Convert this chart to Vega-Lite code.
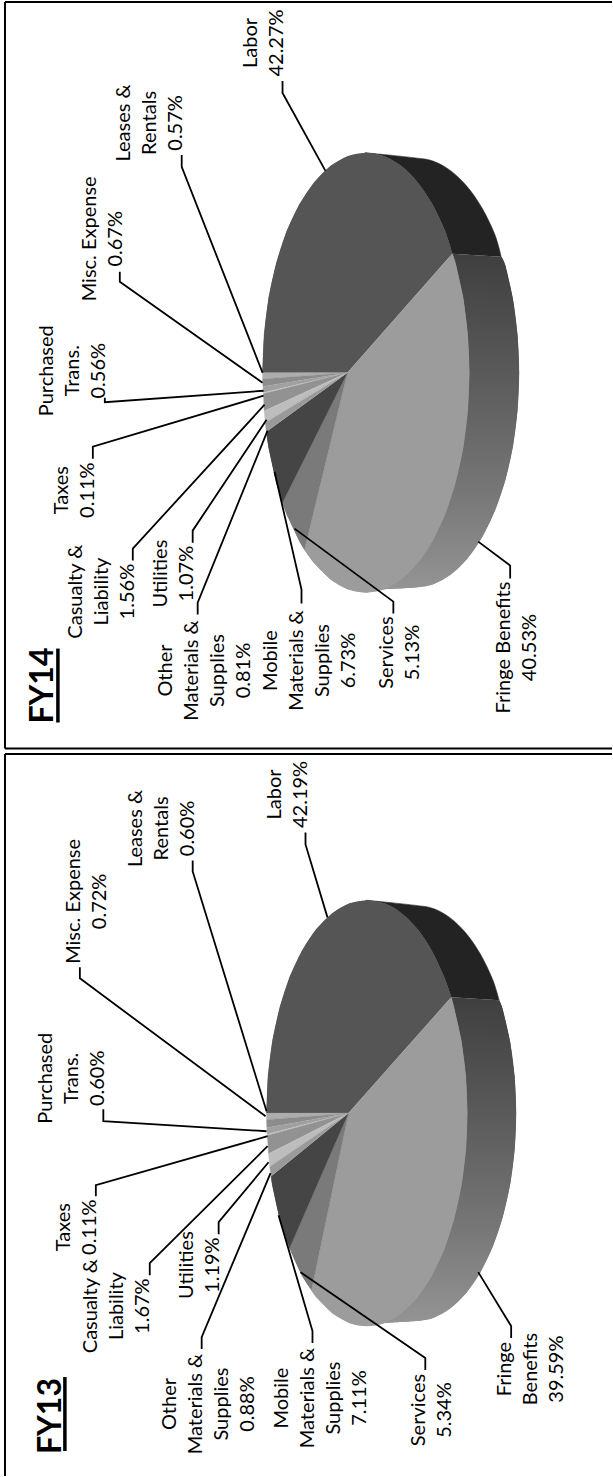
{
  "$schema": "https://vega.github.io/schema/vega-lite/v6.json",
  "width": 613,
  "height": 1477,
  "autosize": {"type": "fit", "contains": "padding"},
  "padding": 0,
  "background": "white",
  "config": {"view": {"stroke": null}},
  "datasets": {
    "frames": [
      {"x": 5, "y": 2, "x2": 613, "y2": 2},
      {"x": 5, "y": 2, "x2": 5, "y2": 749},
      {"x": 5, "y": 749, "x2": 613, "y2": 749},
      {"x": 5, "y": 754.5, "x2": 613, "y2": 754.5},
      {"x": 5, "y": 754.5, "x2": 5, "y2": 1477}
    ],
    "underlines": [
      {"x": 58, "y": 649, "x2": 58, "y2": 723},
      {"x": 65, "y": 1378, "x2": 65, "y2": 1452}
    ],
    "walls": [
      {"fy": "FY14", "part": "Fringe Benefits", "step": 1, "x": 453, "y": 254},
      {"fy": "FY14", "part": "Fringe Benefits", "step": 2, "x": 502, "y": 257},
      {"fy": "FY14", "part": "Fringe Benefits", "step": 3, "x": 506.1, "y": 265.5},
      {"fy": "FY14", "part": "Fringe Benefits", "step": 4, "x": 513.8, "y": 299.5},
      {"fy": "FY14", "part": "Fringe Benefits", "step": 5, "x": 518.4, "y": 335.7},
      {"fy": "FY14", "part": "Fringe Benefits", "step": 6, "x": 520, "y": 373},
      {"fy": "FY14", "part": "Fringe Benefits", "step": 7, "x": 518.4, "y": 410.3},
      {"fy": "FY14", "part": "Fringe Benefits", "step": 8, "x": 513.8, "y": 446.5},
      {"fy": "FY14", "part": "Fringe Benefits", "step": 9, "x": 506.1, "y": 480.5},
      {"fy": "FY14", "part": "Fringe Benefits", "step": 10, "x": 495.7, "y": 511.2},
      {"fy": "FY14", "part": "Fringe Benefits", "step": 11, "x": 482.9, "y": 537.7},
      {"fy": "FY14", "part": "Fringe Benefits", "step": 12, "x": 468, "y": 559.2},
      {"fy": "FY14", "part": "Fringe Benefits", "step": 13, "x": 451.6, "y": 575},
      {"fy": "FY14", "part": "Fringe Benefits", "step": 14, "x": 434.1, "y": 584.7},
      {"fy": "FY14", "part": "Fringe Benefits", "step": 15, "x": 416, "y": 588},
      {"fy": "FY14", "part": "Fringe Benefits", "step": 16, "x": 384.5, "y": 589.7},
      {"fy": "FY14", "part": "Fringe Benefits", "step": 17, "x": 366.5, "y": 593},
      {"fy": "FY14", "part": "Fringe Benefits", "step": 18, "x": 366.5, "y": 373},
      {"fy": "FY13", "part": "Fringe Benefits", "step": 1, "x": 452, "y": 998},
      {"fy": "FY13", "part": "Fringe Benefits", "step": 2, "x": 500, "y": 1001},
      {"fy": "FY13", "part": "Fringe Benefits", "step": 3, "x": 503.5, "y": 1010},
      {"fy": "FY13", "part": "Fringe Benefits", "step": 4, "x": 511, "y": 1042.9},
      {"fy": "FY13", "part": "Fringe Benefits", "step": 5, "x": 515.5, "y": 1077.9},
      {"fy": "FY13", "part": "Fringe Benefits", "step": 6, "x": 517, "y": 1114},
      {"fy": "FY13", "part": "Fringe Benefits", "step": 7, "x": 515.5, "y": 1150.1},
      {"fy": "FY13", "part": "Fringe Benefits", "step": 8, "x": 511, "y": 1185.1},
      {"fy": "FY13", "part": "Fringe Benefits", "step": 9, "x": 503.5, "y": 1218},
      {"fy": "FY13", "part": "Fringe Benefits", "step": 10, "x": 493.5, "y": 1247.7},
      {"fy": "FY13", "part": "Fringe Benefits", "step": 11, "x": 481.1, "y": 1273.3},
      {"fy": "FY13", "part": "Fringe Benefits", "step": 12, "x": 466.8, "y": 1294.1},
      {"fy": "FY13", "part": "Fringe Benefits", "step": 13, "x": 450.9, "y": 1309.5},
      {"fy": "FY13", "part": "Fringe Benefits", "step": 14, "x": 434, "y": 1318.8},
      {"fy": "FY13", "part": "Fringe Benefits", "step": 15, "x": 416.5, "y": 1322},
      {"fy": "FY13", "part": "Fringe Benefits", "step": 16, "x": 385, "y": 1323.8},
      {"fy": "FY13", "part": "Fringe Benefits", "step": 17, "x": 367.5, "y": 1327},
      {"fy": "FY13", "part": "Fringe Benefits", "step": 18, "x": 367.5, "y": 1114}
    ],
    "faces": [
      {"fy": "FY14", "part": "Labor side", "step": 1, "x": 453, "y": 254},
      {"fy": "FY14", "part": "Labor side", "step": 2, "x": 445.8, "y": 231.5},
      {"fy": "FY14", "part": "Labor side", "step": 3, "x": 433, "y": 204.5},
      {"fy": "FY14", "part": "Labor side", "step": 4, "x": 418.3, "y": 182.5},
      {"fy": "FY14", "part": "Labor side", "step": 5, "x": 401.9, "y": 166.2},
      {"fy": "FY14", "part": "Labor side", "step": 6, "x": 384.5, "y": 156.3},
      {"fy": "FY14", "part": "Labor side", "step": 7, "x": 366.5, "y": 153},
      {"fy": "FY14", "part": "Labor side", "step": 8, "x": 416, "y": 158},
      {"fy": "FY14", "part": "Labor side", "step": 9, "x": 434.1, "y": 161.3},
      {"fy": "FY14", "part": "Labor side", "step": 10, "x": 451.6, "y": 171},
      {"fy": "FY14", "part": "Labor side", "step": 11, "x": 468, "y": 186.8},
      {"fy": "FY14", "part": "Labor side", "step": 12, "x": 482.9, "y": 208.3},
      {"fy": "FY14", "part": "Labor side", "step": 13, "x": 495.7, "y": 234.8},
      {"fy": "FY14", "part": "Labor side", "step": 14, "x": 502, "y": 257},

      {"fy": "FY14", "part": "Labor", "step": 1, "x": 348, "y": 373},
      {"fy": "FY14", "part": "Labor", "step": 2, "x": 263, "y": 373},
      {"fy": "FY14", "part": "Labor", "step": 3, "x": 264.6, "y": 334.8},
      {"fy": "FY14", "part": "Labor", "step": 4, "x": 269.2, "y": 297.8},
      {"fy": "FY14", "part": "Labor", "step": 5, "x": 276.9, "y": 263},
      {"fy": "FY14", "part": "Labor", "step": 6, "x": 287.2, "y": 231.5},
      {"fy": "FY14", "part": "Labor", "step": 7, "x": 300, "y": 204.5},
      {"fy": "FY14", "part": "Labor", "step": 8, "x": 314.7, "y": 182.5},
      {"fy": "FY14", "part": "Labor", "step": 9, "x": 331.1, "y": 166.2},
      {"fy": "FY14", "part": "Labor", "step": 10, "x": 348.5, "y": 156.3},
      {"fy": "FY14", "part": "Labor", "step": 11, "x": 366.5, "y": 153},
      {"fy": "FY14", "part": "Labor", "step": 12, "x": 384.5, "y": 156.3},
      {"fy": "FY14", "part": "Labor", "step": 13, "x": 401.9, "y": 166.2},
      {"fy": "FY14", "part": "Labor", "step": 14, "x": 418.3, "y": 182.5},
      {"fy": "FY14", "part": "Labor", "step": 15, "x": 433, "y": 204.5},
      {"fy": "FY14", "part": "Labor", "step": 16, "x": 445.8, "y": 231.5},
      {"fy": "FY14", "part": "Labor", "step": 17, "x": 453, "y": 254},

      {"fy": "FY14", "part": "Fringe Benefits", "step": 1, "x": 348, "y": 373},
      {"fy": "FY14", "part": "Fringe Benefits", "step": 2, "x": 453, "y": 254},
      {"fy": "FY14", "part": "Fringe Benefits", "step": 3, "x": 456.1, "y": 263},
      {"fy": "FY14", "part": "Fringe Benefits", "step": 4, "x": 463.8, "y": 297.8},
      {"fy": "FY14", "part": "Fringe Benefits", "step": 5, "x": 468.4, "y": 334.8},
      {"fy": "FY14", "part": "Fringe Benefits", "step": 6, "x": 470, "y": 373},
      {"fy": "FY14", "part": "Fringe Benefits", "step": 7, "x": 468.4, "y": 411.2},
      {"fy": "FY14", "part": "Fringe Benefits", "step": 8, "x": 463.8, "y": 448.2},
      {"fy": "FY14", "part": "Fringe Benefits", "step": 9, "x": 456.1, "y": 483},
      {"fy": "FY14", "part": "Fringe Benefits", "step": 10, "x": 445.8, "y": 514.5},
      {"fy": "FY14", "part": "Fringe Benefits", "step": 11, "x": 433, "y": 541.5},
      {"fy": "FY14", "part": "Fringe Benefits", "step": 12, "x": 418.3, "y": 563.5},
      {"fy": "FY14", "part": "Fringe Benefits", "step": 13, "x": 401.9, "y": 579.8},
      {"fy": "FY14", "part": "Fringe Benefits", "step": 14, "x": 384.5, "y": 589.7},
      {"fy": "FY14", "part": "Fringe Benefits", "step": 15, "x": 366.5, "y": 593},
      {"fy": "FY14", "part": "Fringe Benefits", "step": 16, "x": 348.5, "y": 589.7},
      {"fy": "FY14", "part": "Fringe Benefits", "step": 17, "x": 331.1, "y": 579.8},
      {"fy": "FY14", "part": "Fringe Benefits", "step": 18, "x": 314.7, "y": 563.5},
      {"fy": "FY14", "part": "Fringe Benefits", "step": 19, "x": 305, "y": 550},

      {"fy": "FY14", "part": "Services", "step": 1, "x": 348, "y": 373},
      {"fy": "FY14", "part": "Services", "step": 2, "x": 305, "y": 550},
      {"fy": "FY14", "part": "Services", "step": 3, "x": 300, "y": 541.5},
      {"fy": "FY14", "part": "Services", "step": 4, "x": 287.2, "y": 514.5},
      {"fy": "FY14", "part": "Services", "step": 5, "x": 283, "y": 503},

      {"fy": "FY14", "part": "Mobile Materials", "step": 1, "x": 348, "y": 373},
      {"fy": "FY14", "part": "Mobile Materials", "step": 2, "x": 283, "y": 503},
      {"fy": "FY14", "part": "Mobile Materials", "step": 3, "x": 276.9, "y": 483},
      {"fy": "FY14", "part": "Mobile Materials", "step": 4, "x": 269.2, "y": 448.2},
      {"fy": "FY14", "part": "Mobile Materials", "step": 5, "x": 266.8, "y": 432},

      {"fy": "FY14", "part": "Leases", "step": 1, "x": 348, "y": 373},
      {"fy": "FY14", "part": "Leases", "step": 2, "x": 263, "y": 373},
      {"fy": "FY14", "part": "Leases", "step": 3, "x": 263.1, "y": 379.3},
      {"fy": "FY14", "part": "Misc", "step": 1, "x": 348, "y": 373},
      {"fy": "FY14", "part": "Misc", "step": 2, "x": 263.1, "y": 379.3},
      {"fy": "FY14", "part": "Misc", "step": 3, "x": 263.4, "y": 386.7},
      {"fy": "FY14", "part": "Purchased", "step": 1, "x": 348, "y": 373},
      {"fy": "FY14", "part": "Purchased", "step": 2, "x": 263.4, "y": 386.7},
      {"fy": "FY14", "part": "Purchased", "step": 3, "x": 263.8, "y": 392.9},
      {"fy": "FY14", "part": "Taxes", "step": 1, "x": 348, "y": 373},
      {"fy": "FY14", "part": "Taxes", "step": 2, "x": 263.8, "y": 392.9},
      {"fy": "FY14", "part": "Taxes", "step": 3, "x": 263.9, "y": 394.1},
      {"fy": "FY14", "part": "Casualty", "step": 1, "x": 348, "y": 373},
      {"fy": "FY14", "part": "Casualty", "step": 2, "x": 263.9, "y": 394.1},
      {"fy": "FY14", "part": "Casualty", "step": 3, "x": 264.6, "y": 411.3},
      {"fy": "FY14", "part": "Utilities", "step": 1, "x": 348, "y": 373},
      {"fy": "FY14", "part": "Utilities", "step": 2, "x": 264.6, "y": 411.3},
      {"fy": "FY14", "part": "Utilities", "step": 3, "x": 265.7, "y": 423.1},
      {"fy": "FY14", "part": "Other Materials", "step": 1, "x": 348, "y": 373},
      {"fy": "FY14", "part": "Other Materials", "step": 2, "x": 265.7, "y": 423.1},
      {"fy": "FY14", "part": "Other Materials", "step": 3, "x": 266.8, "y": 432},

      {"fy": "FY13", "part": "Labor side", "step": 1, "x": 452, "y": 998},
      {"fy": "FY13", "part": "Labor side", "step": 2, "x": 444.5, "y": 977},
      {"fy": "FY13", "part": "Labor side", "step": 3, "x": 432.1, "y": 950.8},
      {"fy": "FY13", "part": "Labor side", "step": 4, "x": 417.8, "y": 929.5},
      {"fy": "FY13", "part": "Labor side", "step": 5, "x": 401.9, "y": 913.8},
      {"fy": "FY13", "part": "Labor side", "step": 6, "x": 385, "y": 904.2},
      {"fy": "FY13", "part": "Labor side", "step": 7, "x": 367.5, "y": 901},
      {"fy": "FY13", "part": "Labor side", "step": 8, "x": 416.5, "y": 906},
      {"fy": "FY13", "part": "Labor side", "step": 9, "x": 434, "y": 909.2},
      {"fy": "FY13", "part": "Labor side", "step": 10, "x": 450.9, "y": 918.5},
      {"fy": "FY13", "part": "Labor side", "step": 11, "x": 466.8, "y": 933.9},
      {"fy": "FY13", "part": "Labor side", "step": 12, "x": 481.1, "y": 954.7},
      {"fy": "FY13", "part": "Labor side", "step": 13, "x": 493.5, "y": 980.3},
      {"fy": "FY13", "part": "Labor side", "step": 14, "x": 500, "y": 1001},

      {"fy": "FY13", "part": "Labor", "step": 1, "x": 349, "y": 1114},
      {"fy": "FY13", "part": "Labor", "step": 2, "x": 267, "y": 1114},
      {"fy": "FY13", "part": "Labor", "step": 3, "x": 268.5, "y": 1076.9},
      {"fy": "FY13", "part": "Labor", "step": 4, "x": 273, "y": 1041.2},
      {"fy": "FY13", "part": "Labor", "step": 5, "x": 280.5, "y": 1007.5},
      {"fy": "FY13", "part": "Labor", "step": 6, "x": 290.5, "y": 977},
      {"fy": "FY13", "part": "Labor", "step": 7, "x": 302.9, "y": 950.8},
      {"fy": "FY13", "part": "Labor", "step": 8, "x": 317.2, "y": 929.5},
      {"fy": "FY13", "part": "Labor", "step": 9, "x": 333.1, "y": 913.8},
      {"fy": "FY13", "part": "Labor", "step": 10, "x": 350, "y": 904.2},
      {"fy": "FY13", "part": "Labor", "step": 11, "x": 367.5, "y": 901},
      {"fy": "FY13", "part": "Labor", "step": 12, "x": 385, "y": 904.2},
      {"fy": "FY13", "part": "Labor", "step": 13, "x": 401.9, "y": 913.8},
      {"fy": "FY13", "part": "Labor", "step": 14, "x": 417.8, "y": 929.5},
      {"fy": "FY13", "part": "Labor", "step": 15, "x": 432.1, "y": 950.8},
      {"fy": "FY13", "part": "Labor", "step": 16, "x": 444.5, "y": 977},
      {"fy": "FY13", "part": "Labor", "step": 17, "x": 452, "y": 998},

      {"fy": "FY13", "part": "Fringe Benefits", "step": 1, "x": 349, "y": 1114},
      {"fy": "FY13", "part": "Fringe Benefits", "step": 2, "x": 452, "y": 998},
      {"fy": "FY13", "part": "Fringe Benefits", "step": 3, "x": 454.5, "y": 1007.5},
      {"fy": "FY13", "part": "Fringe Benefits", "step": 4, "x": 462, "y": 1041.2},
      {"fy": "FY13", "part": "Fringe Benefits", "step": 5, "x": 466.5, "y": 1076.9},
      {"fy": "FY13", "part": "Fringe Benefits", "step": 6, "x": 468, "y": 1114},
      {"fy": "FY13", "part": "Fringe Benefits", "step": 7, "x": 466.5, "y": 1151.1},
      {"fy": "FY13", "part": "Fringe Benefits", "step": 8, "x": 462, "y": 1186.8},
      {"fy": "FY13", "part": "Fringe Benefits", "step": 9, "x": 454.5, "y": 1220.5},
      {"fy": "FY13", "part": "Fringe Benefits", "step": 10, "x": 444.5, "y": 1251},
      {"fy": "FY13", "part": "Fringe Benefits", "step": 11, "x": 432.1, "y": 1277.2},
      {"fy": "FY13", "part": "Fringe Benefits", "step": 12, "x": 417.8, "y": 1298.5},
      {"fy": "FY13", "part": "Fringe Benefits", "step": 13, "x": 401.9, "y": 1314.2},
      {"fy": "FY13", "part": "Fringe Benefits", "step": 14, "x": 385, "y": 1323.8},
      {"fy": "FY13", "part": "Fringe Benefits", "step": 15, "x": 367.5, "y": 1327},
      {"fy": "FY13", "part": "Fringe Benefits", "step": 16, "x": 350, "y": 1323.8},
      {"fy": "FY13", "part": "Fringe Benefits", "step": 17, "x": 333.1, "y": 1314.2},
      {"fy": "FY13", "part": "Fringe Benefits", "step": 18, "x": 317.2, "y": 1298.5},
      {"fy": "FY13", "part": "Fringe Benefits", "step": 19, "x": 312, "y": 1291},

      {"fy": "FY13", "part": "Services", "step": 1, "x": 349, "y": 1114},
      {"fy": "FY13", "part": "Services", "step": 2, "x": 312, "y": 1291},
      {"fy": "FY13", "part": "Services", "step": 3, "x": 302.9, "y": 1277.2},
      {"fy": "FY13", "part": "Services", "step": 4, "x": 290, "y": 1249},

      {"fy": "FY13", "part": "Mobile Materials", "step": 1, "x": 349, "y": 1114},
      {"fy": "FY13", "part": "Mobile Materials", "step": 2, "x": 290, "y": 1249},
      {"fy": "FY13", "part": "Mobile Materials", "step": 3, "x": 280.5, "y": 1220.5},
      {"fy": "FY13", "part": "Mobile Materials", "step": 4, "x": 273, "y": 1186.8},
      {"fy": "FY13", "part": "Mobile Materials", "step": 5, "x": 271.5, "y": 1177},

      {"fy": "FY13", "part": "Leases", "step": 1, "x": 349, "y": 1114},
      {"fy": "FY13", "part": "Leases", "step": 2, "x": 267, "y": 1114},
      {"fy": "FY13", "part": "Leases", "step": 3, "x": 267, "y": 1120.5},
      {"fy": "FY13", "part": "Misc", "step": 1, "x": 349, "y": 1114},
      {"fy": "FY13", "part": "Misc", "step": 2, "x": 267, "y": 1120.5},
      {"fy": "FY13", "part": "Misc", "step": 3, "x": 267.3, "y": 1128.5},
      {"fy": "FY13", "part": "Purchased", "step": 1, "x": 349, "y": 1114},
      {"fy": "FY13", "part": "Purchased", "step": 2, "x": 267.3, "y": 1128.5},
      {"fy": "FY13", "part": "Purchased", "step": 3, "x": 267.7, "y": 1135},
      {"fy": "FY13", "part": "Taxes", "step": 1, "x": 349, "y": 1114},
      {"fy": "FY13", "part": "Taxes", "step": 2, "x": 267.7, "y": 1135},
      {"fy": "FY13", "part": "Taxes", "step": 3, "x": 267.8, "y": 1136.2},
      {"fy": "FY13", "part": "Casualty", "step": 1, "x": 349, "y": 1114},
      {"fy": "FY13", "part": "Casualty", "step": 2, "x": 267.8, "y": 1136.2},
      {"fy": "FY13", "part": "Casualty", "step": 3, "x": 269, "y": 1154.5},
      {"fy": "FY13", "part": "Utilities", "step": 1, "x": 349, "y": 1114},
      {"fy": "FY13", "part": "Utilities", "step": 2, "x": 269, "y": 1154.5},
      {"fy": "FY13", "part": "Utilities", "step": 3, "x": 270.2, "y": 1167.5},
      {"fy": "FY13", "part": "Other Materials", "step": 1, "x": 349, "y": 1114},
      {"fy": "FY13", "part": "Other Materials", "step": 2, "x": 270.2, "y": 1167.5},
      {"fy": "FY13", "part": "Other Materials", "step": 3, "x": 271.5, "y": 1177}
    ],
    "leaders": [
      {"fy": "FY14", "name": "Labor", "step": 1, "x": 283, "y": 81},
      {"fy": "FY14", "name": "Labor", "step": 2, "x": 283, "y": 93},
      {"fy": "FY14", "name": "Labor", "step": 3, "x": 326, "y": 171},
      {"fy": "FY14", "name": "Leases", "step": 1, "x": 182, "y": 155},
      {"fy": "FY14", "name": "Leases", "step": 2, "x": 182, "y": 167},
      {"fy": "FY14", "name": "Leases", "step": 3, "x": 263, "y": 373},
      {"fy": "FY14", "name": "Misc", "step": 1, "x": 120, "y": 272},
      {"fy": "FY14", "name": "Misc", "step": 2, "x": 120, "y": 282},
      {"fy": "FY14", "name": "Misc", "step": 3, "x": 263, "y": 383},
      {"fy": "FY14", "name": "Purchased", "step": 1, "x": 105, "y": 398},
      {"fy": "FY14", "name": "Purchased", "step": 2, "x": 105, "y": 402.5},
      {"fy": "FY14", "name": "Purchased", "step": 3, "x": 264, "y": 391},
      {"fy": "FY14", "name": "Taxes", "step": 1, "x": 93, "y": 459},
      {"fy": "FY14", "name": "Taxes", "step": 2, "x": 93, "y": 447},
      {"fy": "FY14", "name": "Taxes", "step": 3, "x": 264, "y": 396},
      {"fy": "FY14", "name": "Casualty", "step": 1, "x": 133, "y": 561},
      {"fy": "FY14", "name": "Casualty", "step": 2, "x": 133, "y": 549},
      {"fy": "FY14", "name": "Casualty", "step": 3, "x": 265, "y": 405},
      {"fy": "FY14", "name": "Utilities", "step": 1, "x": 193, "y": 543},
      {"fy": "FY14", "name": "Utilities", "step": 2, "x": 193, "y": 531},
      {"fy": "FY14", "name": "Utilities", "step": 3, "x": 267, "y": 420},
      {"fy": "FY14", "name": "Other", "step": 1, "x": 198, "y": 615},
      {"fy": "FY14", "name": "Other", "step": 2, "x": 198, "y": 603},
      {"fy": "FY14", "name": "Other", "step": 3, "x": 268, "y": 431},
      {"fy": "FY14", "name": "Mobile", "step": 1, "x": 275, "y": 472},
      {"fy": "FY14", "name": "Mobile", "step": 2, "x": 302, "y": 590},
      {"fy": "FY14", "name": "Mobile", "step": 3, "x": 302, "y": 604},
      {"fy": "FY14", "name": "Services", "step": 1, "x": 295, "y": 529},
      {"fy": "FY14", "name": "Services", "step": 2, "x": 394, "y": 602},
      {"fy": "FY14", "name": "Services", "step": 3, "x": 394, "y": 614},
      {"fy": "FY14", "name": "Fringe", "step": 1, "x": 479, "y": 542},
      {"fy": "FY14", "name": "Fringe", "step": 2, "x": 511, "y": 566},
      {"fy": "FY14", "name": "Fringe", "step": 3, "x": 511, "y": 579},
      {"fy": "FY13", "name": "Labor", "step": 1, "x": 306, "y": 833},
      {"fy": "FY13", "name": "Labor", "step": 2, "x": 306, "y": 845},
      {"fy": "FY13", "name": "Labor", "step": 3, "x": 328, "y": 918},
      {"fy": "FY13", "name": "Leases", "step": 1, "x": 193, "y": 861},
      {"fy": "FY13", "name": "Leases", "step": 2, "x": 193, "y": 872},
      {"fy": "FY13", "name": "Leases", "step": 3, "x": 267, "y": 1112},
      {"fy": "FY13", "name": "Misc", "step": 1, "x": 80, "y": 968},
      {"fy": "FY13", "name": "Misc", "step": 2, "x": 80, "y": 979},
      {"fy": "FY13", "name": "Misc", "step": 3, "x": 266, "y": 1117},
      {"fy": "FY13", "name": "Purchased", "step": 1, "x": 103.5, "y": 1110},
      {"fy": "FY13", "name": "Purchased", "step": 2, "x": 103.5, "y": 1122},
      {"fy": "FY13", "name": "Purchased", "step": 3, "x": 267, "y": 1132},
      {"fy": "FY13", "name": "Taxes", "step": 1, "x": 96, "y": 1197},
      {"fy": "FY13", "name": "Taxes", "step": 2, "x": 96, "y": 1186},
      {"fy": "FY13", "name": "Taxes", "step": 3, "x": 268, "y": 1137},
      {"fy": "FY13", "name": "Casualty", "step": 1, "x": 150, "y": 1276},
      {"fy": "FY13", "name": "Casualty", "step": 2, "x": 150, "y": 1264},
      {"fy": "FY13", "name": "Casualty", "step": 3, "x": 268, "y": 1147},
      {"fy": "FY13", "name": "Utilities", "step": 1, "x": 219, "y": 1235},
      {"fy": "FY13", "name": "Utilities", "step": 2, "x": 219, "y": 1223},
      {"fy": "FY13", "name": "Utilities", "step": 3, "x": 269, "y": 1163},
      {"fy": "FY13", "name": "Other", "step": 1, "x": 202, "y": 1350},
      {"fy": "FY13", "name": "Other", "step": 2, "x": 202, "y": 1338},
      {"fy": "FY13", "name": "Other", "step": 3, "x": 271, "y": 1174},
      {"fy": "FY13", "name": "Mobile", "step": 1, "x": 279, "y": 1216},
      {"fy": "FY13", "name": "Mobile", "step": 2, "x": 313, "y": 1332},
      {"fy": "FY13", "name": "Mobile", "step": 3, "x": 313, "y": 1344},
      {"fy": "FY13", "name": "Services", "step": 1, "x": 301, "y": 1273},
      {"fy": "FY13", "name": "Services", "step": 2, "x": 426, "y": 1359},
      {"fy": "FY13", "name": "Services", "step": 3, "x": 426, "y": 1371},
      {"fy": "FY13", "name": "Fringe", "step": 1, "x": 479, "y": 1273},
      {"fy": "FY13", "name": "Fringe", "step": 2, "x": 512, "y": 1327},
      {"fy": "FY13", "name": "Fringe", "step": 3, "x": 512, "y": 1339}
    ],
    "labels": [
      {"text": "Labor\n42.27%", "x": 257, "y": 43},
      {"text": "Leases &\nRentals\n0.57%", "x": 130, "y": 123},
      {"text": "Misc. Expense\n0.67%", "x": 96, "y": 239},
      {"text": "Purchased\nTrans.\n0.56%", "x": 53, "y": 371},
      {"text": "Taxes\n0.11%", "x": 68, "y": 490.5},
      {"text": "Casualty &\nLiability\n1.56%", "x": 82, "y": 592},
      {"text": "Utilities\n1.07%", "x": 167, "y": 574},
      {"text": "Other\nMaterials &\nSupplies\n0.81%", "x": 172, "y": 671},
      {"text": "Mobile\nMaterials &\nSupplies\n6.73%", "x": 277, "y": 661},
      {"text": "Services\n5.13%", "x": 394, "y": 653},
      {"text": "Fringe Benefits\n40.53%", "x": 511, "y": 648},
      {"text": "Labor\n42.19%", "x": 281, "y": 795},
      {"text": "Leases &\nRentals\n0.60%", "x": 142, "y": 829},
      {"text": "Misc. Expense\n0.72%", "x": 80, "y": 902},
      {"text": "Purchased\nTrans.\n0.60%", "x": 52, "y": 1079},
      {"text": "Taxes\n0.11%", "x": 70, "y": 1228},
      {"text": "Casualty &\nLiability\n1.67%", "x": 97, "y": 1307},
      {"text": "Utilities\n1.19%", "x": 193, "y": 1266},
      {"text": "Other\nMaterials &\nSupplies\n0.88%", "x": 176, "y": 1405},
      {"text": "Mobile\nMaterials &\nSupplies\n7.11%", "x": 288, "y": 1399},
      {"text": "Services\n5.34%", "x": 426, "y": 1411},
      {"text": "Fringe\nBenefits\n39.59%", "x": 512, "y": 1370}
    ],
    "titles": [
      {"text": "FY14", "x": 53, "y": 686},
      {"text": "FY13", "x": 61, "y": 1417}
    ]
  },
  "encoding": {
    "x": {"field": "x", "type": "quantitative", "axis": null, "scale": {"domain": [0, 613], "nice": false, "zero": false}},
    "y": {"field": "y", "type": "quantitative", "axis": null, "scale": {"domain": [1477, 0], "nice": false, "zero": false}},
    "order": {"field": "step", "type": "quantitative"},
    "fill": {
      "field": "part", "type": "nominal", "legend": null,
      "scale": {
        "domain": ["Labor side", "Labor", "Fringe Benefits", "Services", "Mobile Materials", "Leases", "Misc", "Purchased", "Taxes", "Casualty", "Utilities", "Other Materials"],
        "range": ["#232323", "#555555", "#9c9c9c", "#7a7a7a", "#454545", "#adadad", "#8c8c8c", "#a0a0a0", "#c4c4c4", "#929292", "#bdbdbd", "#9a9a9a"]
      }
    },
    "stroke": {
      "field": "part", "type": "nominal", "legend": null,
      "scale": {
        "domain": ["Labor side", "Labor", "Fringe Benefits", "Services", "Mobile Materials", "Leases", "Misc", "Purchased", "Taxes", "Casualty", "Utilities", "Other Materials"],
        "range": ["#232323", "#555555", "#9c9c9c", "#7a7a7a", "#454545", "#adadad", "#8c8c8c", "#a0a0a0", "#c4c4c4", "#929292", "#bdbdbd", "#9a9a9a"]
      }
    },
    "detail": {"field": "fy"}
  },
  "layer": [
    {
      "data": {"name": "frames"},
      "mark": {"type": "rule", "strokeWidth": 2},
      "encoding": {
        "x2": {"field": "x2"}, "y2": {"field": "y2"},
        "stroke": {"value": "#000000"}, "fill": {"value": null}, "order": {"value": null}, "detail": {"value": null}
      }
    },
    {
      "data": {"name": "walls"},
      "mark": {"type": "line", "strokeWidth": 0},
      "encoding": {
        "stroke": {"value": null},
        "fill": {"value": {
          "gradient": "linear", "x1": 0, "y1": 0, "x2": 0, "y2": 1,
          "stops": [
            {"offset": 0, "color": "#3f3f3f"},
            {"offset": 0.35, "color": "#5a5a5a"},
            {"offset": 0.7, "color": "#767676"},
            {"offset": 1, "color": "#949494"}
          ]
        }}
      }
    },
    {
      "data": {"name": "walls"},
      "transform": [{"filter": "datum.step >= 2 && datum.step <= 16"}],
      "mark": {"type": "line", "interpolate": "cardinal", "strokeWidth": 0},
      "encoding": {
        "stroke": {"value": null},
        "fill": {"value": {
          "gradient": "linear", "x1": 0, "y1": 0, "x2": 0, "y2": 1,
          "stops": [
            {"offset": 0, "color": "#3f3f3f"},
            {"offset": 0.35, "color": "#5a5a5a"},
            {"offset": 0.7, "color": "#767676"},
            {"offset": 1, "color": "#949494"}
          ]
        }}
      }
    },
    {
      "data": {"name": "faces"},
      "transform": [{"filter": "datum.part === 'Labor side'"}],
      "mark": {"type": "line", "interpolate": "cardinal", "strokeWidth": 0.6}
    },
    {
      "data": {"name": "faces"},
      "transform": [{"filter": {"field": "part", "oneOf": ["Labor", "Fringe Benefits", "Services", "Mobile Materials", "Leases", "Misc", "Purchased", "Taxes", "Casualty", "Utilities", "Other Materials"]}}],
      "mark": {"type": "line", "strokeWidth": 0.4, "strokeJoin": "round"}
    },
    {
      "data": {"name": "faces"},
      "transform": [
        {"filter": {"field": "part", "oneOf": ["Labor", "Fringe Benefits", "Services", "Mobile Materials"]}},
        {"filter": "datum.step >= 2"}
      ],
      "mark": {"type": "line", "interpolate": "cardinal", "strokeWidth": 0}
    },
    {
      "data": {"name": "leaders"},
      "mark": {"type": "line", "strokeWidth": 1.8},
      "encoding": {
        "stroke": {"value": "#000000"}, "fill": {"value": null},
        "detail": [{"field": "fy"}, {"field": "name"}]
      }
    },
    {
      "data": {"name": "labels"},
      "mark": {
        "type": "text", "font": "Lato", "fontSize": 20, "angle": 270, "align": "center",
        "baseline": "alphabetic", "lineBreak": "\n", "lineHeight": 26
      },
      "encoding": {
        "text": {"field": "text"},
        "fill": {"value": "#000000"}, "stroke": {"value": null}, "order": {"value": null}, "detail": {"value": null}
      }
    },
    {
      "data": {"name": "titles"},
      "mark": {
        "type": "text", "font": "Lato", "fontSize": 32, "fontWeight": "bold", "angle": 270,
        "align": "center", "baseline": "alphabetic"
      },
      "encoding": {
        "text": {"field": "text"},
        "fill": {"value": "#000000"}, "stroke": {"value": null}, "order": {"value": null}, "detail": {"value": null}
      }
    },
    {
      "data": {"name": "underlines"},
      "mark": {"type": "rule", "strokeWidth": 3.5},
      "encoding": {
        "x2": {"field": "x2"}, "y2": {"field": "y2"},
        "stroke": {"value": "#000000"}, "fill": {"value": null}, "order": {"value": null}, "detail": {"value": null}
      }
    }
  ]
}
